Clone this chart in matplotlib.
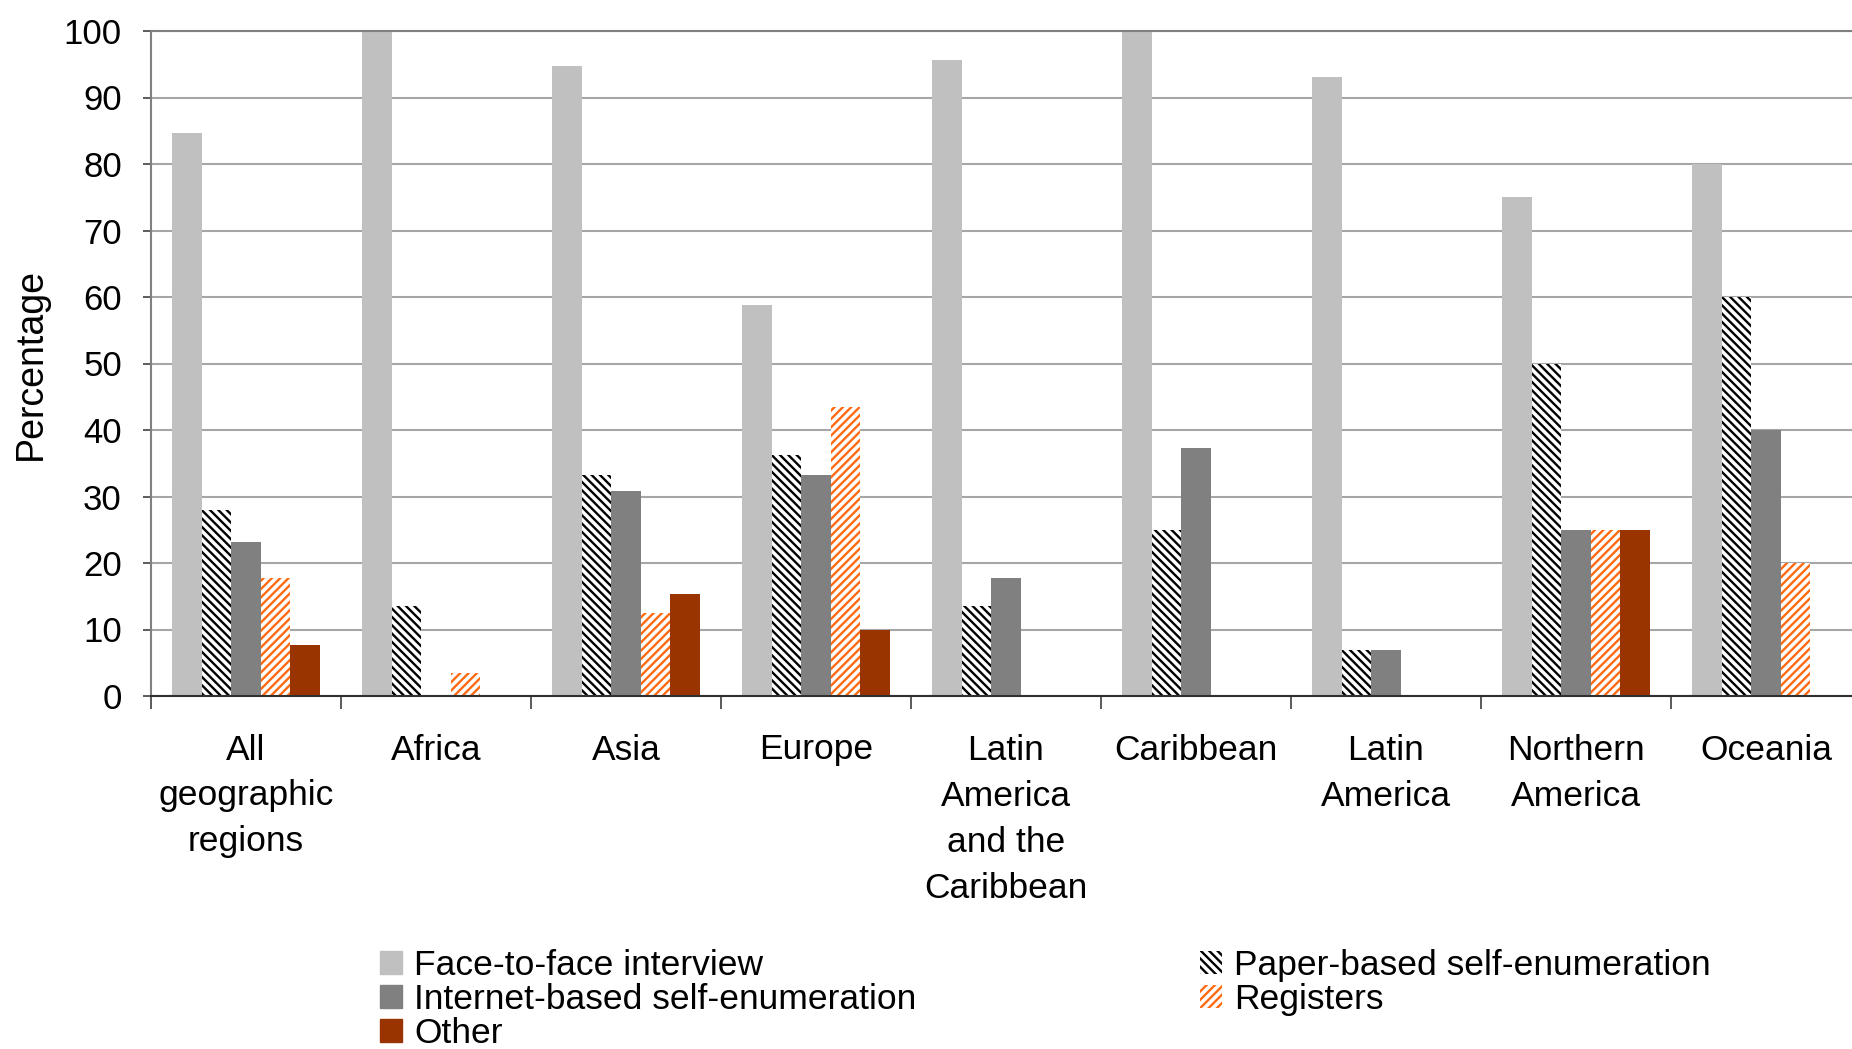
import numpy as np
import matplotlib
matplotlib.use('Agg')
import matplotlib.pyplot as plt
from matplotlib.patches import Patch

plt.rcParams['font.family'] = ['Liberation Sans', 'DejaVu Sans']
plt.rcParams['hatch.linewidth'] = 1.7

# Data
regions = ['All\ngeographic\nregions', 'Africa', 'Asia', 'Europe',
           'Latin\nAmerica\nand the\nCaribbean', 'Caribbean', 'Latin\nAmerica',
           'Northern\nAmerica', 'Oceania']
face_to_face = [84.6, 100, 94.7, 58.8, 95.7, 100, 93.1, 75, 80]
paper_based = [28.0, 13.5, 33.3, 36.2, 13.5, 25, 6.9, 50, 60]
internet_based = [23.1, 0, 30.9, 33.3, 17.8, 37.3, 6.9, 25, 40]
registers = [17.8, 3.4, 12.5, 43.4, 0, 0, 0, 25, 20]
other = [7.7, 0, 15.3, 10.0, 0, 0, 0, 25, 0]

series_names = ['Face-to-face interview', 'Paper-based self-enumeration',
                'Internet-based self-enumeration', 'Registers', 'Other']

fig = plt.figure(figsize=(18.52, 10.49), dpi=100)
ax = fig.add_axes([151/1852, 1 - 696/1049, 1710/1852, 665/1049])

x = np.arange(len(regions))
w = 0.155
styles = [
    dict(color='#C0C0C0'),
    dict(facecolor='white', edgecolor='black', hatch='\\\\\\\\', linewidth=0),
    dict(color='#808080'),
    dict(facecolor='white', edgecolor='#FF6A10', hatch='////', linewidth=0),
    dict(color='#993300'),
]
data = [face_to_face, paper_based, internet_based, registers, other]
for i, (vals, st) in enumerate(zip(data, styles)):
    ax.bar(x + (i - 2) * w, vals, w, zorder=2, **st)

ax.set_xlim(-0.5, len(regions) - 0.5)
ax.set_ylim(0, 100)
ax.set_yticks(range(0, 101, 10))
ax.yaxis.grid(True, color='#A6A6A6', linewidth=1.5, zorder=0)
ax.set_axisbelow(True)

ax.set_xticks(np.arange(len(regions) + 1) - 0.5)
ax.set_xticklabels([])
ax.set_xticks(x, minor=True)
ax.set_xticklabels(regions, minor=True, fontsize=25.5, linespacing=1.5)
ax.tick_params(axis='x', which='major', length=9, width=1.2, color='#404040')
ax.tick_params(axis='x', which='minor', length=0, pad=27)
ax.tick_params(axis='y', length=6, width=1.2, color='#404040', labelsize=25, pad=15)

for s in ['left', 'top']:
    ax.spines[s].set_color('#808080')
    ax.spines[s].set_linewidth(1.5)
ax.spines['bottom'].set_color('#303030')
ax.spines['bottom'].set_linewidth(1.5)
ax.spines['right'].set_visible(False)

ax.set_ylabel('Percentage', fontsize=27, labelpad=11)

handles = [Patch(**styles[k]) for k in range(5)]
order = [0, 2, 4, 1, 3]
fig.legend([handles[k] for k in order], [series_names[k] for k in order],
           ncol=2, loc='upper left', bbox_to_anchor=(380/1852, 1 - 949/1049),
           frameon=False, fontsize=25.5, handlelength=0.62, handleheight=0.62,
           handletextpad=0.35, labelspacing=0.03, columnspacing=8.0, borderpad=0,
           borderaxespad=0)

fig.savefig('out.png', dpi=100)
